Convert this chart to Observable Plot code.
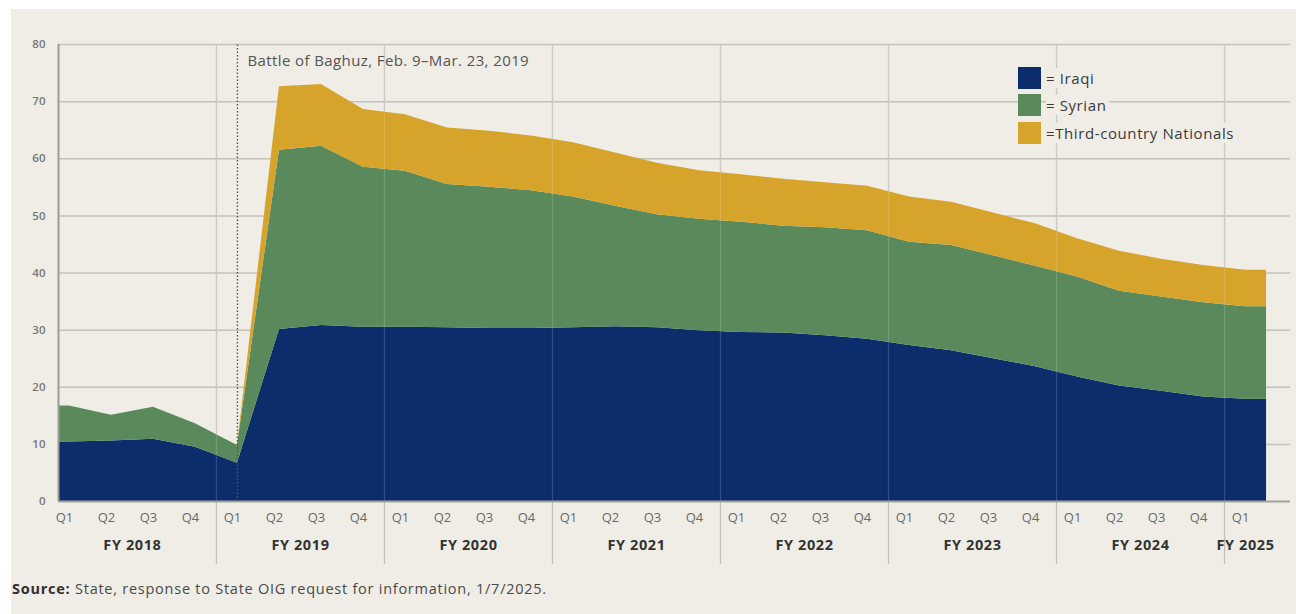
<!DOCTYPE html>
<html>
<head>
<meta charset="utf-8">
<script src="https://cdn.jsdelivr.net/npm/d3@7"></script>
<script src="https://cdn.jsdelivr.net/npm/@observablehq/plot@0.6"></script>
<style>
  html, body { margin: 0; padding: 0; background: #ffffff; }
  body { width: 1296px; height: 614px; position: relative; overflow: hidden; font-family: "Open Sans", sans-serif; }
  #panel { position: absolute; left: 11px; top: 9px; right: 0; bottom: 0; background: #efede6; }
  #chart { position: absolute; left: 0; top: 0; }
  #legend { position: absolute; left: 1018px; top: 64px; }
  .lrow { display: flex; align-items: center; height: 27.5px; }
  .sw { width: 23px; height: 22px; margin-right: 5px; }
  .lt { font-size: 15px; letter-spacing: 0.6px; color: #3a3a3a; background: #efede6; padding: 0 3px 0 0; line-height: 20px; }
  #source { position: absolute; left: 12px; top: 579px; font-size: 14.5px; letter-spacing: 0.75px; color: #4a4a4a; }
  #source b { color: #2f2f2f; }
</style>
</head>
<body>
<div id="panel"></div>
<div id="chart"></div>
<div id="legend"></div>
<div id="source"><b>Source:</b> State, response to State OIG request for information, 1/7/2025.</div>
<script>
// ---- data ----
const quarterLabels = ["Q1","Q2","Q3","Q4","Q1","Q2","Q3","Q4","Q1","Q2","Q3","Q4","Q1","Q2","Q3","Q4",
                       "Q1","Q2","Q3","Q4","Q1","Q2","Q3","Q4","Q1","Q2","Q3","Q4","Q1"];
const fiscalYears = ["FY 2018","FY 2019","FY 2020","FY 2021","FY 2022","FY 2023","FY 2024","FY 2025"];
const seriesNames = ["Iraqi","Syrian","Third-country Nationals"];
const legendLabels = ["= Iraqi","= Syrian","=Third-country Nationals"];
const seriesColors = ["#0c2d6b","#5a8a5b","#d6a42b"];
const iraqi = [10.4,10.6,10.9,9.5,6.7,30.1,30.8,30.5,30.5,30.4,30.3,30.3,30.4,30.6,30.4,29.9,29.6,29.5,29.0,28.4,27.3,26.4,25.0,23.6,21.8,20.2,19.3,18.3,17.9];
const syrian = [6.3,4.5,5.6,4.1,3.1,31.4,31.4,28.0,27.3,25.1,24.7,24.1,22.9,21.1,19.8,19.5,19.3,18.7,18.9,19.0,18.1,18.4,18.0,17.6,17.5,16.6,16.5,16.5,16.2];
const thirdCountry = [0,0,0,0,0,11.1,10.8,10.1,9.9,9.9,9.8,9.6,9.5,9.3,9.0,8.5,8.3,8.2,7.9,7.8,7.9,7.6,7.5,7.4,6.7,7.0,6.6,6.5,6.4];
const yTicks = [0,10,20,30,40,50,60,70,80];
const annotation = "Battle of Baghuz, Feb. 9–Mar. 23, 2019";
const battleIndex = 4;

// ---- derived tables ----
const n = quarterLabels.length;
const xDomain = [-0.26, 29.07];
const valuesBySeries = [iraqi, syrian, thirdCountry];
// x positions: band centres, with the areas carried flat to the band edges at both ends
const xs = [xDomain[0], ...d3.range(n), n - 0.5];
const rows = [];
seriesNames.forEach((s, k) => {
  const v = valuesBySeries[k];
  xs.forEach((x, j) => {
    const idx = Math.min(Math.max(j - 1, 0), n - 1);
    rows.push({series: s, x, value: v[idx]});
  });
});
const quarters = quarterLabels.map((q, i) => ({i, q}));
const years = fiscalYears.map((fy, k) => {
  const idx = d3.range(4 * k, Math.min(4 * k + 4, n));
  return {fy, c: d3.mean(idx)};
});
const boundaries = d3.range(1, fiscalYears.length).map(k => 4 * k - 0.5);

const chart = Plot.plot({
  width: 1296,
  height: 570,
  marginLeft: 58,
  marginRight: 6,
  marginTop: 44,
  marginBottom: 69,
  style: {background: "transparent", fontFamily: "'Open Sans', sans-serif"},
  x: {domain: xDomain, axis: null},
  y: {domain: [0, 80], axis: null},
  color: {domain: seriesNames, range: seriesColors},
  marks: [
    Plot.ruleY(yTicks.filter(d => d > 0), {stroke: "#c4c2bb", strokeWidth: 1.5}),
    Plot.ruleX(boundaries, {y1: -11, y2: 80, stroke: "#c2c0b9", strokeWidth: 1.3}),
    Plot.areaY(rows, {x: "x", y: "value", fill: "series", order: seriesNames, curve: "linear"}),
    Plot.ruleX(boundaries, {y1: 0, y2: 80, stroke: "#ffffff", strokeOpacity: 0.15, strokeWidth: 1.3}),
    Plot.ruleY([0], {stroke: "#a3a19b", strokeWidth: 2}),
    Plot.ruleX([xDomain[0]], {y1: 0, y2: 80, stroke: "#9d9b95", strokeWidth: 2}),
    Plot.ruleX([battleIndex], {y1: 0, y2: 80, stroke: "#555", strokeWidth: 1.4, strokeDasharray: "1.5,2"}),
    Plot.text([annotation], {x: battleIndex, y: 80, dx: 10, dy: 17, text: d => d, textAnchor: "start",
      fontSize: 15, fill: "#555", style: "letter-spacing:0.4px"}),
    Plot.axisY({ticks: yTicks, label: null, tickSize: 0, tickPadding: 13, fontSize: 11.5, fill: "#777", fontWeight: 600}),
    Plot.text(quarters, {x: "i", frameAnchor: "bottom", dy: 20, dx: -5, text: "q", fontSize: 13, fill: "#6a6a6a"}),
    Plot.text(years, {x: "c", frameAnchor: "bottom", dy: 48, text: "fy", fontSize: 14.5, fontWeight: 700, fill: "#333"})
  ]
});
chart.querySelectorAll("text").forEach(t => { if (t.textContent.startsWith("Battle")) t.setAttribute("letter-spacing", "0.4"); });
chart.querySelectorAll("g[aria-label='text'] text").forEach(t => {
  if (t.textContent.startsWith("FY")) t.setAttribute("letter-spacing", "0.6");
});
document.getElementById("chart").appendChild(chart);

// legend built from the same series arrays
const legend = document.getElementById("legend");
seriesNames.forEach((s, k) => {
  const row = document.createElement("div");
  row.className = "lrow";
  row.innerHTML = `<div class="sw" style="background:${seriesColors[k]}"></div><span class="lt">${legendLabels[k]}</span>`;
  legend.appendChild(row);
});
</script>
</body>
</html>
